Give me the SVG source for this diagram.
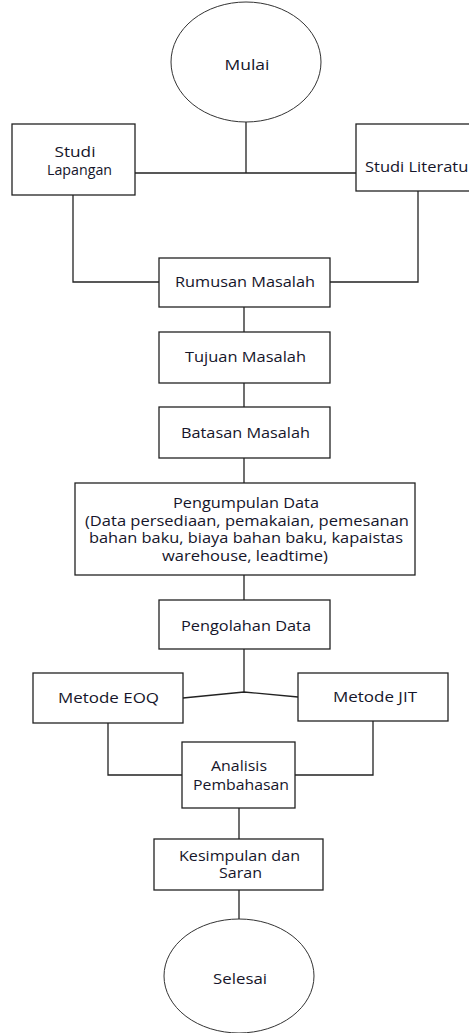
<svg xmlns="http://www.w3.org/2000/svg" width="469" height="1033" viewBox="0 0 469 1033">
<style>
.box{fill:#fff;stroke:#222;stroke-width:1.3}
.term{fill:#fff;stroke:#333;stroke-width:1}
.ln{fill:none;stroke:#222;stroke-width:1.3}
text{font-family:"Open Sans","Liberation Sans",sans-serif;font-size:14px;fill:#15152a;text-anchor:middle}
</style>
<rect width="469" height="1033" fill="#fff"/>
<g id="connectors">
<path class="ln" d="M246 122V173M135 173H356"/>
<path class="ln" d="M73 195V282H159M330 282H418V191"/>
<path class="ln" d="M244 307V332M244 383V407M244 458V483M244 575V600M244 649V692"/>
<path class="ln" d="M183 698L244 692L298 697"/>
<path class="ln" d="M108 723V775H182M373 721V775H295"/>
<path class="ln" d="M239 808V839M239 890V919"/>
</g>
<g id="mulai"><ellipse class="term" cx="246" cy="62" rx="75" ry="60"/><text x="247" y="70" textLength="45" lengthAdjust="spacingAndGlyphs">Mulai</text></g>
<g id="studi-lapangan"><rect class="box" x="12" y="124" width="123" height="71"/><text x="75" y="157" textLength="41" lengthAdjust="spacingAndGlyphs">Studi</text><text x="79.5" y="175" textLength="65" lengthAdjust="spacingAndGlyphs">Lapangan</text></g>
<g id="studi-literatur"><rect class="box" x="356" y="124" width="130" height="67"/><text x="365" y="172" style="text-anchor:start" textLength="110" lengthAdjust="spacingAndGlyphs">Studi Literatur</text></g>
<g id="rumusan"><rect class="box" x="159" y="258" width="171" height="49"/><text x="245" y="287" textLength="140" lengthAdjust="spacingAndGlyphs">Rumusan Masalah</text></g>
<g id="tujuan"><rect class="box" x="159" y="332" width="171" height="51"/><text x="245.5" y="362" textLength="121" lengthAdjust="spacingAndGlyphs">Tujuan Masalah</text></g>
<g id="batasan"><rect class="box" x="159" y="407" width="171" height="51"/><text x="245.5" y="438" textLength="129" lengthAdjust="spacingAndGlyphs">Batasan Masalah</text></g>
<g id="pengumpulan"><rect class="box" x="75" y="483" width="340" height="92"/>
<text x="246" y="508" textLength="146" lengthAdjust="spacingAndGlyphs">Pengumpulan Data</text>
<text x="247" y="526" textLength="324" lengthAdjust="spacingAndGlyphs">(Data persediaan, pemakaian, pemesanan</text>
<text x="246" y="543" textLength="314" lengthAdjust="spacingAndGlyphs">bahan baku, biaya bahan baku, kapaistas</text>
<text x="245" y="561" textLength="166" lengthAdjust="spacingAndGlyphs">warehouse, leadtime)</text></g>
<g id="pengolahan"><rect class="box" x="159" y="600" width="171" height="49"/><text x="246" y="631" textLength="130" lengthAdjust="spacingAndGlyphs">Pengolahan Data</text></g>
<g id="eoq"><rect class="box" x="33" y="673" width="150" height="50"/><text x="108.5" y="703" textLength="101" lengthAdjust="spacingAndGlyphs">Metode EOQ</text></g>
<g id="jit"><rect class="box" x="298" y="673" width="150" height="48"/><text x="375" y="702" textLength="84" lengthAdjust="spacingAndGlyphs">Metode JIT</text></g>
<g id="analisis"><rect class="box" x="182" y="742" width="113" height="66"/><text x="239" y="771" textLength="56" lengthAdjust="spacingAndGlyphs">Analisis</text><text x="241" y="790" textLength="96" lengthAdjust="spacingAndGlyphs">Pembahasan</text></g>
<g id="kesimpulan"><rect class="box" x="154" y="839" width="169" height="51"/><text x="239.5" y="861" textLength="121" lengthAdjust="spacingAndGlyphs">Kesimpulan dan</text><text x="240.5" y="878" textLength="43" lengthAdjust="spacingAndGlyphs">Saran</text></g>
<g id="selesai"><ellipse class="term" cx="239" cy="976" rx="75" ry="57"/><text x="240" y="984" textLength="54" lengthAdjust="spacingAndGlyphs">Selesai</text></g>
</svg>
